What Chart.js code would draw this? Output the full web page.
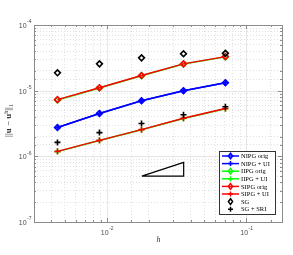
<!DOCTYPE html>
<html>
<head>
<meta charset="utf-8">
<script src="https://cdn.jsdelivr.net/npm/chart.js@4.4.0/dist/chart.umd.min.js"></script>
<style>
  body { margin: 0; background: #fff; }
</style>
</head>
<body>
<canvas id="err-chart" width="293" height="255"></canvas>
<script>
// mesh sizes
const hValues = [0.00442, 0.00884, 0.0177, 0.0354, 0.0707];

// errors
const nipgOrig = [2.75e-6, 4.5e-6, 7.0e-6, 1.0e-5, 1.32e-5];
const nipgUI   = [2.75e-6, 4.5e-6, 7.0e-6, 1.0e-5, 1.32e-5];
const iipgOrig = [7.2e-6, 1.1e-5, 1.69e-5, 2.55e-5, 3.27e-5];
const iipgUI   = [1.18e-6, 1.74e-6, 2.54e-6, 3.78e-6, 5.3e-6];
const sipgOrig = [7.3e-6, 1.11e-5, 1.7e-5, 2.56e-5, 3.3e-5];
const sipgUI   = [1.19e-6, 1.75e-6, 2.55e-6, 3.8e-6, 5.35e-6];
const sgOrig   = [1.87e-5, 2.56e-5, 3.16e-5, 3.65e-5, 3.7e-5];
const sgSRI    = [1.63e-6, 2.3e-6, 3.17e-6, 4.3e-6, 5.7e-6];

// slope triangle corners
const triX = [0.0178, 0.0355, 0.0355, 0.0178];
const triY = [5.0e-7, 8.1e-7, 5.0e-7, 5.0e-7];

// axis ticks
const xTickValues = [0.01, 0.1];
const xTickExps = ['-2', '-1'];
const yTickValues = [1e-7, 1e-6, 1e-5, 1e-4];
const yTickExps = ['-7', '-6', '-5', '-4'];

const legendLabels = ['NIPG orig', 'NIPG + UI', 'IIPG orig', 'IIPG + UI',
                      'SIPG orig', 'SIPG + UI', 'SG', 'SG + SRI'];

function pts(xs, ys) {
    return xs.map((x, i) => ({ x: x, y: ys[i] }));
}

function series(label, ys, color, style, line, order) {
    return {
        label: label,
        data: pts(hValues, ys),
        borderColor: color,
        backgroundColor: 'rgba(255,255,255,0)',
        borderWidth: 1.5,
        showLine: line,
        pointStyle: style,
        pointRadius: style === 'rectRot' ? 2.9 : 3,
        pointBorderWidth: 1.6,
        pointBorderColor: color,
        order: order
    };
}

const datasets = [
    series(legendLabels[0], nipgOrig, '#0000ff', 'rectRot', true, 8),
    series(legendLabels[1], nipgUI, '#0000ff', 'cross', true, 7),
    series(legendLabels[2], iipgOrig, '#00ff00', 'rectRot', true, 6),
    series(legendLabels[3], iipgUI, '#00ff00', 'cross', true, 5),
    series(legendLabels[4], sipgOrig, '#ff0000', 'rectRot', true, 4),
    series(legendLabels[5], sipgUI, '#ff0000', 'cross', true, 3),
    series(legendLabels[6], sgOrig, '#000000', 'rectRot', false, 2),
    series(legendLabels[7], sgSRI, '#000000', 'cross', false, 1),
    {
        label: 'triangle',
        data: pts(triX, triY),
        borderColor: '#000',
        borderWidth: 1.2,
        pointRadius: 0,
        showLine: true,
        order: 0
    }
];

function drawPower(ctx, x, y, exp, align) {
    ctx.font = '7px "Liberation Sans", Arial, sans-serif';
    const wb = ctx.measureText('10').width;
    ctx.font = '5px "Liberation Sans", Arial, sans-serif';
    const we = ctx.measureText(exp).width;
    let x0 = x;
    if (align === 'right') x0 = x - wb - we;
    if (align === 'center') x0 = x - (wb + we) / 2;
    ctx.textAlign = 'left';
    ctx.textBaseline = 'middle';
    ctx.font = '7px "Liberation Sans", Arial, sans-serif';
    ctx.fillText('10', x0, y);
    ctx.font = '5px "Liberation Sans", Arial, sans-serif';
    ctx.fillText(exp, x0 + wb + 0.5, y - 4);
}

const matlabAxes = {
    id: 'matlabAxes',
    beforeDatasetsDraw(chart) {
        const { ctx, chartArea: a, scales } = chart;
        ctx.save();
        ctx.strokeStyle = '#e6e6e6';
        ctx.lineWidth = 1;
        scales.x.ticks.forEach(t => {
            if (!t.major) return;
            const px = Math.round(scales.x.getPixelForValue(t.value)) + 0.5;
            ctx.beginPath(); ctx.moveTo(px, a.top); ctx.lineTo(px, a.bottom); ctx.stroke();
        });
        scales.y.ticks.forEach(t => {
            if (!t.major) return;
            const py = Math.round(scales.y.getPixelForValue(t.value)) + 0.5;
            ctx.beginPath(); ctx.moveTo(a.left, py); ctx.lineTo(a.right, py); ctx.stroke();
        });
        ctx.restore();
    },
    afterDraw(chart) {
        const { ctx, chartArea: a, scales } = chart;
        ctx.save();
        // box
        ctx.strokeStyle = '#8c8c8c';
        ctx.lineWidth = 1;
        ctx.strokeRect(Math.round(a.left) + 0.5, Math.round(a.top) + 0.5,
                       Math.round(a.right - a.left), Math.round(a.bottom - a.top));
        // inner ticks
        ctx.beginPath();
        scales.x.ticks.forEach(t => {
            const px = Math.round(scales.x.getPixelForValue(t.value)) + 0.5;
            const len = t.major ? 4 : 2;
            ctx.moveTo(px, a.bottom); ctx.lineTo(px, a.bottom - len);
            ctx.moveTo(px, a.top); ctx.lineTo(px, a.top + len);
        });
        scales.y.ticks.forEach(t => {
            const py = Math.round(scales.y.getPixelForValue(t.value)) + 0.5;
            const len = t.major ? 4 : 2;
            ctx.moveTo(a.left, py); ctx.lineTo(a.left + len, py);
            ctx.moveTo(a.right, py); ctx.lineTo(a.right - len, py);
        });
        ctx.stroke();

        // tick labels
        ctx.fillStyle = '#4d4d4d';
        xTickValues.forEach((v, i) => {
            drawPower(ctx, scales.x.getPixelForValue(v), a.bottom + 11, xTickExps[i], 'center');
        });
        yTickValues.forEach((v, i) => {
            drawPower(ctx, a.left - 3, scales.y.getPixelForValue(v) + 1, yTickExps[i], 'right');
        });

        // x label
        ctx.fillStyle = '#333';
        ctx.font = 'italic 8px "Liberation Serif", serif';
        ctx.textAlign = 'center';
        ctx.textBaseline = 'middle';
        ctx.fillText('h', (a.left + a.right) / 2 + 0.5, 240);

        // y label, rotated
        ctx.save();
        ctx.translate(9, (a.top + a.bottom) / 2 - 3);
        ctx.rotate(-Math.PI / 2);
        const parts = [
            ['||', '9px "Liberation Serif", serif', 0],
            ['u', 'bold 9px "Liberation Serif", serif', 0],
            [' \u2212 ', '9px "Liberation Serif", serif', 0],
            ['u', 'bold 9px "Liberation Serif", serif', 0],
            ['h', '6px "Liberation Serif", serif', -3],
            ['||', '9px "Liberation Serif", serif', 0],
            ['1', '6px "Liberation Serif", serif', 2]
        ];
        let total = 0;
        parts.forEach(p => { ctx.font = p[1]; total += ctx.measureText(p[0]).width; });
        let cx = -total / 2;
        ctx.textAlign = 'left';
        parts.forEach(p => {
            ctx.font = p[1];
            ctx.fillText(p[0], cx, p[2]);
            cx += ctx.measureText(p[0]).width;
        });
        ctx.restore();

        // legend
        const lx = 219, ly = 151, lw = 56, lh = 63;
        ctx.fillStyle = '#fff';
        ctx.fillRect(lx, ly, lw, lh);
        ctx.strokeStyle = '#333';
        ctx.lineWidth = 1;
        ctx.strokeRect(lx + 0.5, ly + 0.5, lw, lh);
        ctx.font = '6.5px "Liberation Serif", serif';
        ctx.textBaseline = 'middle';
        for (let i = 0; i < 8; i++) {
            const ds = chart.data.datasets[i];
            const yy = ly + 5 + i * 7.6;
            ctx.strokeStyle = ds.borderColor;
            ctx.lineWidth = 1.5;
            if (ds.showLine) {
                ctx.beginPath(); ctx.moveTo(lx + 3, yy); ctx.lineTo(lx + 20, yy); ctx.stroke();
            }
            const mx = lx + 11.5;
            ctx.beginPath();
            if (ds.pointStyle === 'rectRot') {
                ctx.moveTo(mx, yy - 2.8); ctx.lineTo(mx + 2.1, yy);
                ctx.lineTo(mx, yy + 2.8); ctx.lineTo(mx - 2.1, yy); ctx.closePath();
            } else {
                ctx.moveTo(mx - 2.5, yy); ctx.lineTo(mx + 2.5, yy);
                ctx.moveTo(mx, yy - 2.5); ctx.lineTo(mx, yy + 2.5);
            }
            ctx.stroke();
            ctx.fillStyle = '#000';
            ctx.textAlign = 'left';
            ctx.fillText(legendLabels[i], lx + 22, yy + 0.5);
        }
        ctx.restore();
    }
};

const gridColor = (c) => (c.tick && c.tick.major) ? 'rgba(0,0,0,0)' : '#e0e0e0';

new Chart(document.getElementById('err-chart').getContext('2d'), {
    type: 'line',
    data: { datasets: datasets },
    options: {
        responsive: false,
        animation: false,
        events: [],
        layout: { padding: { top: 25, right: 11, left: 0, bottom: 0 } },
        plugins: { legend: { display: false }, tooltip: { enabled: false } },
        scales: {
            x: {
                type: 'logarithmic',
                min: 0.003,
                max: 0.18,
                ticks: { display: false, autoSkip: false },
                grid: { color: gridColor, lineWidth: 1, drawTicks: false },
                border: { display: false, dash: [1, 2] },
                afterFit: (s) => { s.height = 33; }
            },
            y: {
                type: 'logarithmic',
                min: 1e-7,
                max: 1e-4,
                ticks: { display: false, autoSkip: false },
                grid: { color: gridColor, lineWidth: 1, drawTicks: false },
                border: { display: false, dash: [1, 2] },
                afterFit: (s) => { s.width = 34; }
            }
        }
    },
    plugins: [matlabAxes]
});
</script>
</body>
</html>
